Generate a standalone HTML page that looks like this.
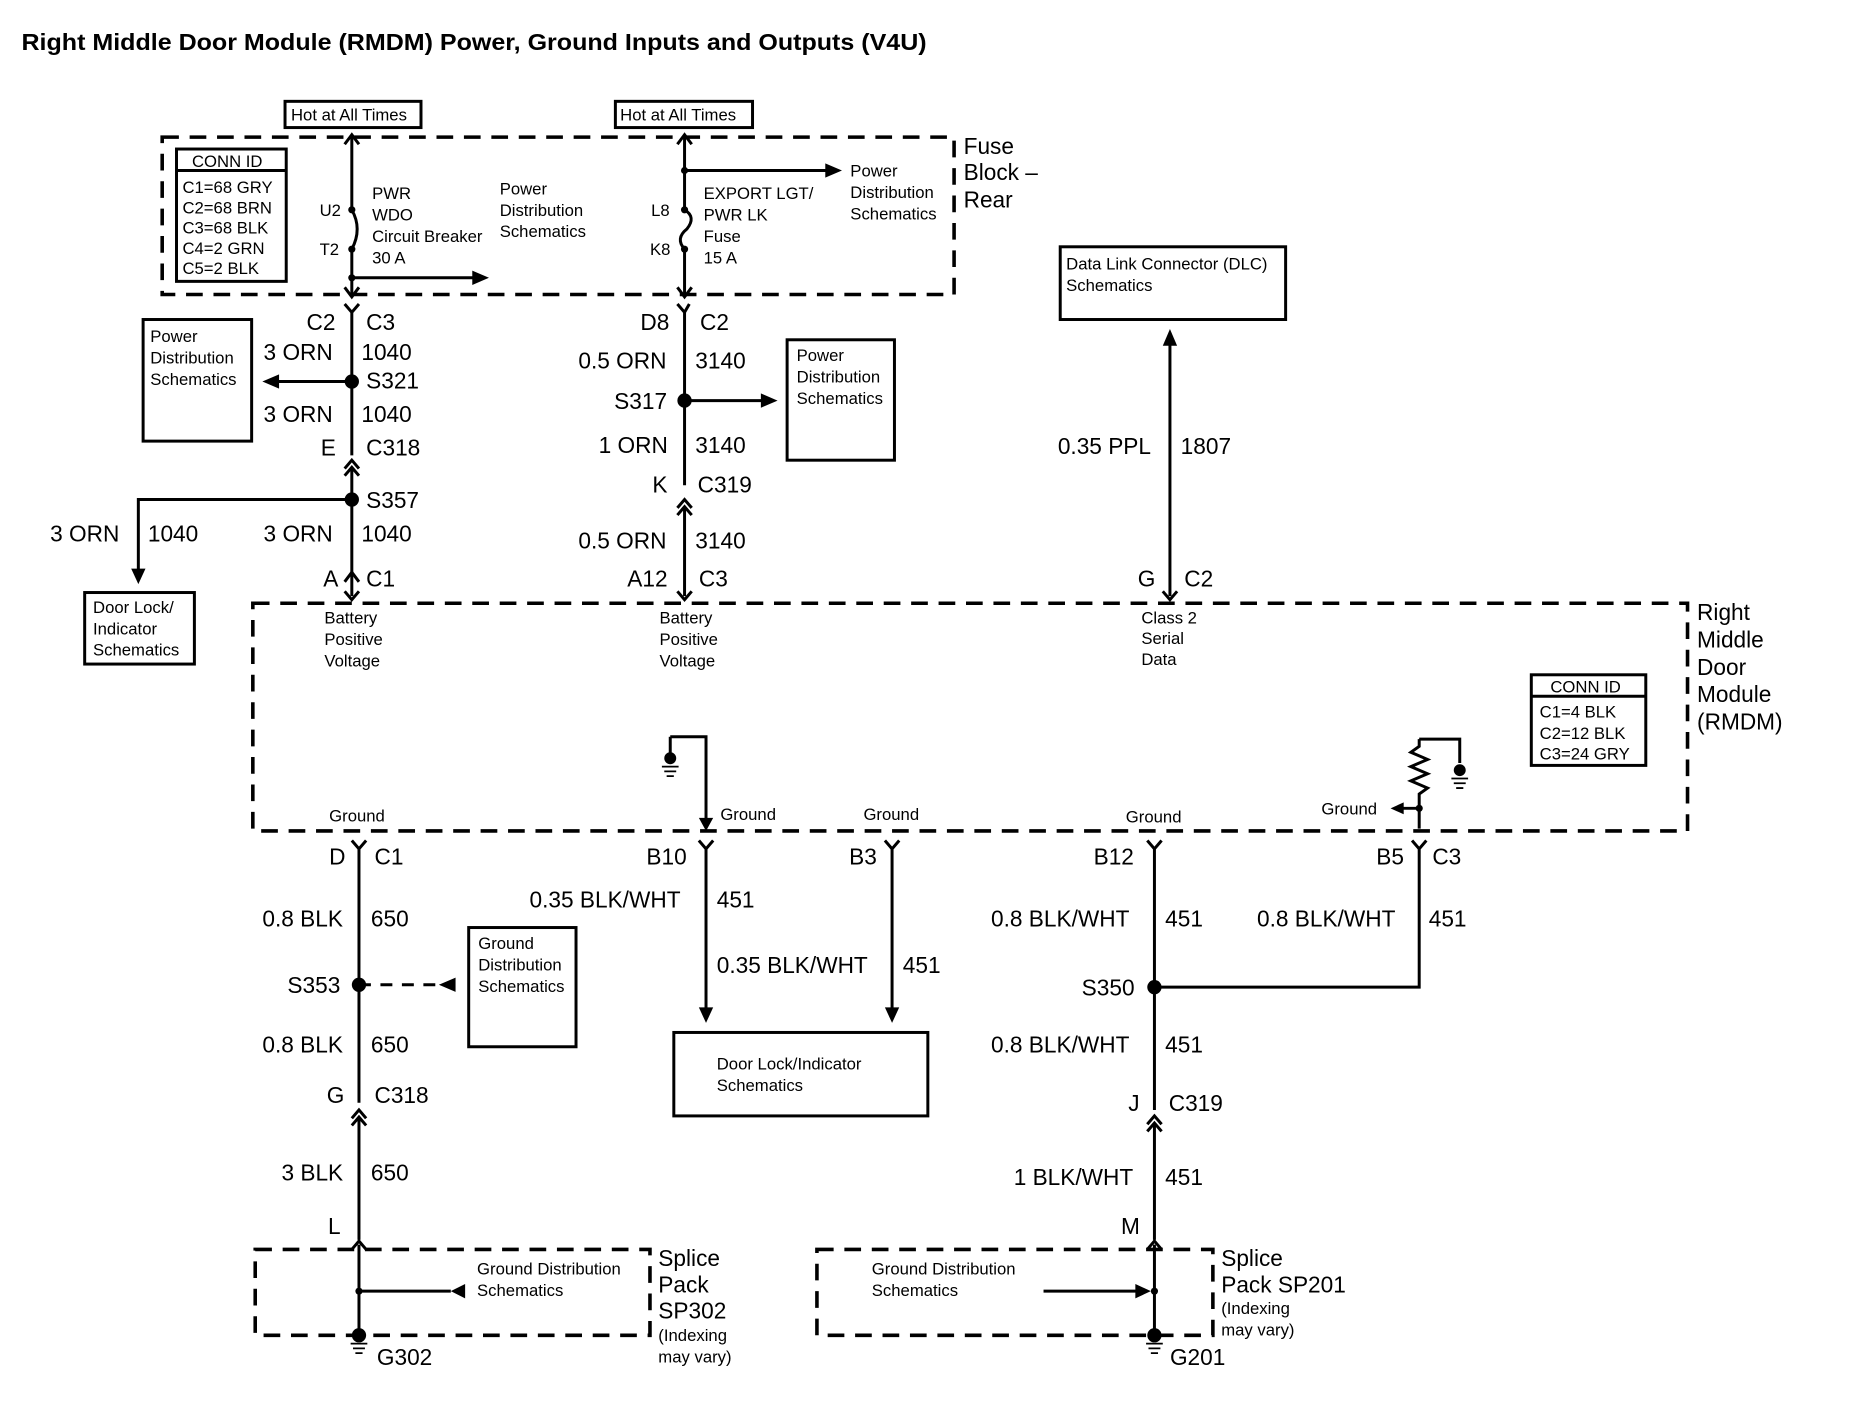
<!DOCTYPE html>
<html><head><meta charset="utf-8"><style>
html,body{margin:0;padding:0;background:#fff}
svg{display:block}
text{font-family:"Liberation Sans",Arial,sans-serif;fill:#000}
.b{font-size:19px}
.s{font-size:14px}
.t{font-size:19px;font-weight:bold}
</style></head><body>
<svg width="1870" height="1408" viewBox="0 0 1568 1181" preserveAspectRatio="none" xmlns="http://www.w3.org/2000/svg">
<rect width="1568" height="1181" fill="#fff"/>
<text x="18" y="42" class="t" textLength="759" lengthAdjust="spacingAndGlyphs">Right Middle Door Module (RMDM) Power, Ground Inputs and Outputs (V4U)</text>
<g fill="none" stroke="#000" stroke-width="3" stroke-dasharray="14,9">
<rect x="136" y="115" width="664" height="132"/>
<rect x="212" y="506" width="1203" height="191"/>
<rect x="214" y="1048" width="331" height="72"/>
<rect x="685" y="1048" width="332" height="72"/>
</g>
<g fill="none" stroke="#000" stroke-width="2.5">
<rect x="239" y="85" width="114" height="22"/>
<rect x="516" y="85" width="115" height="22"/>
<rect x="148" y="125" width="92" height="111"/>
<line x1="148" y1="143" x2="240" y2="143"/>
<rect x="120" y="268" width="91" height="102"/>
<rect x="660" y="285" width="90" height="101"/>
<rect x="889" y="207" width="189" height="61"/>
<rect x="71" y="497" width="92" height="60"/>
<rect x="1284" y="566" width="96" height="76"/>
<line x1="1284" y1="584" x2="1380" y2="584"/>
<rect x="393" y="778" width="90" height="100"/>
<rect x="565" y="866" width="213" height="70"/>
</g>
<g stroke="#000" stroke-width="2.5" fill="none">
<path d="M295 113 V176 M295 209 V247"/>
<path d="M295 176 Q304 192 295 209"/>
<path d="M289 121 L295 113 L301 121"/>
<path d="M289 241 L295 249 L301 241"/>
<line x1="295" y1="233" x2="400" y2="233"/>
<path d="M574 113 V176 M574 209 V247"/>
<path d="M574 176 Q584 182 576 192 Q566 200 574 209"/>
<path d="M568 121 L574 113 L580 121"/>
<path d="M568 241 L574 249 L580 241"/>
<line x1="574" y1="143" x2="696" y2="143"/>
<path d="M289 255 L295 262 L301 255 M295 262 V382"/>
<path d="M289 393 L295 386 L301 393 M289 399 L295 392 L301 399 M295 392 V500"/>
<line x1="230" y1="320" x2="295" y2="320"/>
<path d="M295 419 H116 V480"/>
<path d="M289 488 L295 480 L301 488" />
<path d="M568 255 L574 262 L578 255 M574 262 V407"/>
<path d="M568 426 L574 419 L580 426 M568 432 L574 425 L580 432 M574 425 V500"/>
<line x1="574" y1="336" x2="640" y2="336"/>
<line x1="981" y1="286" x2="981" y2="500"/>
<path d="M975 496 L981 503 L987 496"/>
<path d="M289 496 L295 503 L301 496"/>
<path d="M568 496 L574 503 L580 496"/>
<path d="M562 618 H592 V690"/>
<line x1="562" y1="618" x2="562" y2="636"/>
<path d="M1190 620 H1224 V640"/>
<path d="M1190 620 l0 6 l-7 5 l14 6 l-14 6 l14 6 l-14 6 l14 6 l-7 5 V695"/>
<line x1="1176" y1="678" x2="1190" y2="678"/>
<path d="M295 705 L301 712 L307 705 M301 712 V925"/>
<path d="M586 705 L592 712 L598 705 M592 712 V850"/>
<path d="M742 705 L748 712 L754 705 M748 712 V850"/>
<path d="M962 705 L968 712 L974 705 M968 712 V931"/>
<path d="M1184 705 L1190 712 L1196 705 M1190 712 V828 H968"/>
<path d="M295 938 L301 931 L307 938 M295 944 L301 937 L307 944 M301 937 V1040"/>
<path d="M962 943 L968 936 L974 943 M962 949 L968 942 L974 949 M968 942 V1040"/>
<path d="M295 1048 L301 1041 L307 1048 M301 1044 V1120"/>
<path d="M962 1048 L968 1041 L974 1048 M968 1044 V1120"/>
<line x1="301" y1="1083" x2="378" y2="1083"/>
<line x1="875" y1="1083" x2="958" y2="1083"/>
<line x1="301" y1="826" x2="370" y2="826" stroke-dasharray="10,8"/>
</g>
<g fill="#000" stroke="none">
<circle cx="295" cy="176" r="3"/><circle cx="295" cy="209" r="3"/><circle cx="295" cy="233" r="3"/>
<circle cx="574" cy="176" r="3"/><circle cx="574" cy="209" r="3"/><circle cx="574" cy="143" r="3"/>
<circle cx="295" cy="320" r="6"/><circle cx="295" cy="419" r="6"/><circle cx="574" cy="336" r="6"/>
<circle cx="301" cy="826" r="6"/><circle cx="968" cy="828" r="6"/>
<circle cx="301" cy="1083" r="3"/><circle cx="968" cy="1083" r="3"/>
<circle cx="301" cy="1120" r="6"/><circle cx="968" cy="1120" r="6"/>
<circle cx="562" cy="636" r="5"/><circle cx="1224" cy="646" r="5"/><circle cx="1190" cy="678" r="3"/>
<path d="M410 233 L396 227 L396 239Z"/>
<path d="M706 143 L692 137 L692 149Z"/>
<path d="M220 320 L234 314 L234 326Z"/>
<path d="M652 336 L638 330 L638 342Z"/>
<path d="M116 490 L110 477 L122 477Z"/>
<path d="M981 276 L975 290 L987 290Z"/>
<path d="M592 858 L586 845 L598 845Z"/>
<path d="M748 858 L742 845 L754 845Z"/>
<path d="M592 697 L586 686 L598 686Z"/>
<path d="M368 826 L382 820 L382 832Z"/>
<path d="M1166 678 L1177 673 L1177 683Z"/>
<path d="M378 1083 L390 1077 L390 1089Z"/>
<path d="M965 1083 L952 1077 L952 1089Z"/>
</g>
<g stroke="#000" stroke-width="1.5">
<path d="M555 643 H569 M557 647 H567 M559 651 H565"/>
<path d="M1217 653 H1231 M1219 657 H1229 M1221 661 H1227"/>
<path d="M294 1127 H308 M296 1131 H306 M298 1135 H304"/>
<path d="M961 1127 H975 M963 1131 H973 M965 1135 H971"/>
</g>
<g class="s">
<text x="244" y="101">Hot at All Times</text>
<text x="520" y="101">Hot at All Times</text>
<text x="161" y="140">CONN ID</text>
<text x="153" y="162">C1=68 GRY</text><text x="153" y="179">C2=68 BRN</text><text x="153" y="196">C3=68 BLK</text><text x="153" y="213">C4=2 GRN</text><text x="153" y="230">C5=2 BLK</text>
<text x="268" y="181">U2</text><text x="268" y="214">T2</text>
<text x="312" y="167">PWR</text><text x="312" y="185">WDO</text><text x="312" y="203">Circuit Breaker</text><text x="312" y="221">30 A</text>
<text x="419" y="163">Power</text><text x="419" y="181">Distribution</text><text x="419" y="199">Schematics</text>
<text x="546" y="181">L8</text><text x="545" y="214">K8</text>
<text x="590" y="167">EXPORT LGT/</text><text x="590" y="185">PWR LK</text><text x="590" y="203">Fuse</text><text x="590" y="221">15 A</text>
<text x="713" y="148">Power</text><text x="713" y="166">Distribution</text><text x="713" y="184">Schematics</text>
<text x="126" y="287">Power</text><text x="126" y="305">Distribution</text><text x="126" y="323">Schematics</text>
<text x="668" y="303">Power</text><text x="668" y="321">Distribution</text><text x="668" y="339">Schematics</text>
<text x="894" y="226">Data Link Connector (DLC)</text><text x="894" y="244">Schematics</text>
<text x="78" y="514">Door Lock/</text><text x="78" y="532">Indicator</text><text x="78" y="550">Schematics</text>
<text x="272" y="523">Battery</text><text x="272" y="541">Positive</text><text x="272" y="559">Voltage</text>
<text x="553" y="523">Battery</text><text x="553" y="541">Positive</text><text x="553" y="559">Voltage</text>
<text x="957" y="523">Class 2</text><text x="957" y="540">Serial</text><text x="957" y="558">Data</text>
<text x="1300" y="581">CONN ID</text>
<text x="1291" y="602">C1=4 BLK</text><text x="1291" y="620">C2=12 BLK</text><text x="1291" y="637">C3=24 GRY</text>
<text x="276" y="689">Ground</text><text x="604" y="688">Ground</text><text x="724" y="688">Ground</text><text x="944" y="690">Ground</text><text x="1108" y="683">Ground</text>
<text x="401" y="796">Ground</text><text x="401" y="814">Distribution</text><text x="401" y="832">Schematics</text>
<text x="601" y="897">Door Lock/Indicator</text><text x="601" y="915">Schematics</text>
<text x="400" y="1069">Ground Distribution</text><text x="400" y="1087">Schematics</text>
<text x="731" y="1069">Ground Distribution</text><text x="731" y="1087">Schematics</text>
<text x="552" y="1125">(Indexing</text><text x="552" y="1143">may vary)</text>
<text x="1024" y="1102">(Indexing</text><text x="1024" y="1120">may vary)</text>
</g>
<g class="b">
<text x="808" y="129">Fuse</text><text x="808" y="151">Block –</text><text x="808" y="174">Rear</text>
<text x="1423" y="520">Right</text><text x="1423" y="543">Middle</text><text x="1423" y="566">Door</text><text x="1423" y="589">Module</text><text x="1423" y="612">(RMDM)</text>
<text x="257" y="277">C2</text><text x="307" y="277">C3</text>
<text x="221" y="302">3 ORN</text><text x="303" y="302">1040</text>
<text x="307" y="326">S321</text>
<text x="221" y="354">3 ORN</text><text x="303" y="354">1040</text>
<text x="269" y="382">E</text><text x="307" y="382">C318</text>
<text x="307" y="426">S357</text>
<text x="42" y="454">3 ORN</text><text x="124" y="454">1040</text>
<text x="221" y="454">3 ORN</text><text x="303" y="454">1040</text>
<text x="271" y="492">A</text><text x="307" y="492">C1</text>
<text x="537" y="277">D8</text><text x="587" y="277">C2</text>
<text x="485" y="309">0.5 ORN</text><text x="583" y="309">3140</text>
<text x="515" y="343">S317</text>
<text x="502" y="380">1 ORN</text><text x="583" y="380">3140</text>
<text x="547" y="413">K</text><text x="585" y="413">C319</text>
<text x="485" y="460">0.5 ORN</text><text x="583" y="460">3140</text>
<text x="526" y="492">A12</text><text x="586" y="492">C3</text>
<text x="887" y="381">0.35 PPL</text><text x="990" y="381">1807</text>
<text x="954" y="492">G</text><text x="993" y="492">C2</text>
<text x="276" y="725">D</text><text x="314" y="725">C1</text>
<text x="542" y="725">B10</text><text x="712" y="725">B3</text><text x="917" y="725">B12</text><text x="1154" y="725">B5</text><text x="1201" y="725">C3</text>
<text x="220" y="777">0.8 BLK</text><text x="311" y="777">650</text>
<text x="444" y="761">0.35 BLK/WHT</text><text x="601" y="761">451</text>
<text x="601" y="816">0.35 BLK/WHT</text><text x="757" y="816">451</text>
<text x="831" y="777">0.8 BLK/WHT</text><text x="977" y="777">451</text>
<text x="1054" y="777">0.8 BLK/WHT</text><text x="1198" y="777">451</text>
<text x="241" y="833">S353</text>
<text x="907" y="835">S350</text>
<text x="220" y="883">0.8 BLK</text><text x="311" y="883">650</text>
<text x="831" y="883">0.8 BLK/WHT</text><text x="977" y="883">451</text>
<text x="274" y="925">G</text><text x="314" y="925">C318</text>
<text x="946" y="932">J</text><text x="980" y="932">C319</text>
<text x="236" y="990">3 BLK</text><text x="311" y="990">650</text>
<text x="850" y="994">1 BLK/WHT</text><text x="977" y="994">451</text>
<text x="275" y="1035">L</text><text x="940" y="1035">M</text>
<text x="552" y="1062">Splice</text><text x="552" y="1084">Pack</text><text x="552" y="1106">SP302</text>
<text x="1024" y="1062">Splice</text><text x="1024" y="1084">Pack SP201</text>
<text x="316" y="1145">G302</text><text x="981" y="1145">G201</text>
</g>
</svg>
</body></html>
